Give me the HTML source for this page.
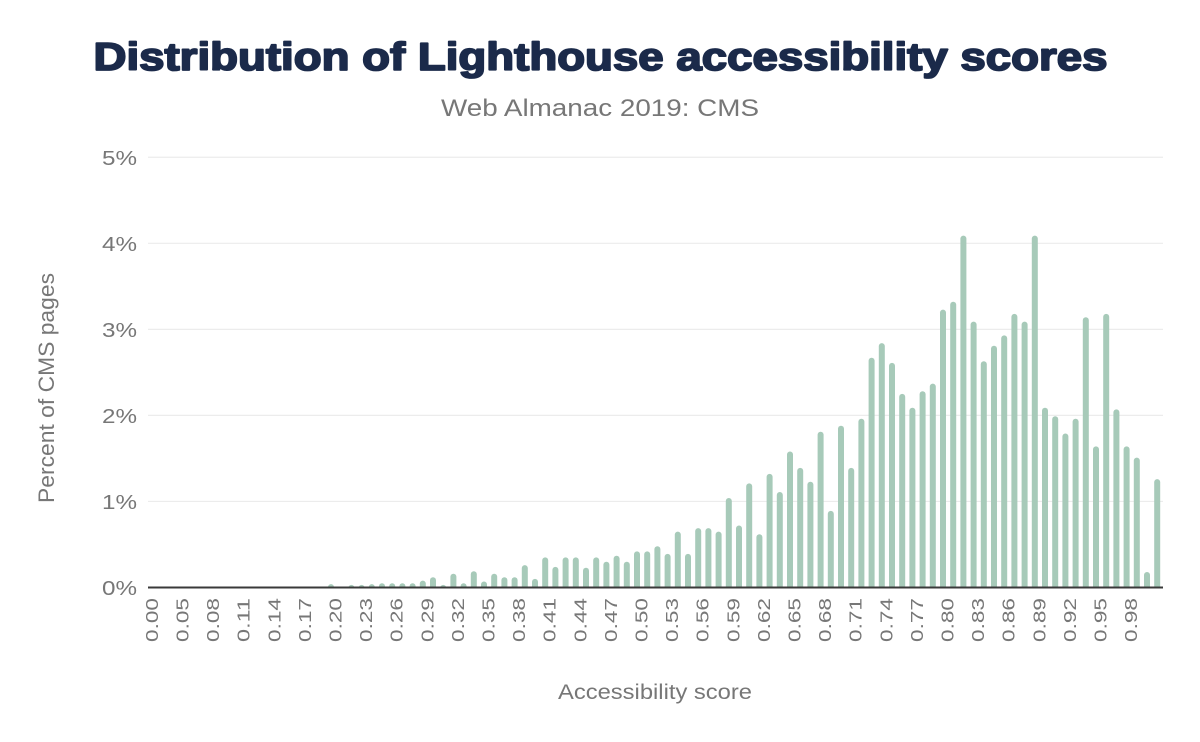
<!DOCTYPE html>
<html>
<head>
<meta charset="utf-8">
<style>
html,body{margin:0;padding:0;background:#fff;}
svg{display:block;}
text{font-family:"Liberation Sans",Arial,sans-serif;}
</style>
</head>
<body>
<svg width="1200" height="742" viewBox="0 0 1200 742" xmlns="http://www.w3.org/2000/svg">
<rect width="1200" height="742" fill="#fff"/>
<text x="600.5" y="70" text-anchor="middle" font-size="38.5" font-weight="bold" fill="#1b2a4a" stroke="#1b2a4a" stroke-width="1.8" stroke-linejoin="round" textLength="1014" lengthAdjust="spacingAndGlyphs">Distribution of Lighthouse accessibility scores</text>
<text x="600" y="116" text-anchor="middle" font-size="24" fill="#777" textLength="318" lengthAdjust="spacingAndGlyphs">Web Almanac 2019: CMS</text>

<g stroke="#ececec" stroke-width="1.2">
<line x1="148" y1="157.25" x2="1163" y2="157.25"/>
<line x1="148" y1="243.3" x2="1163" y2="243.3"/>
<line x1="148" y1="329.35" x2="1163" y2="329.35"/>
<line x1="148" y1="415.4" x2="1163" y2="415.4"/>
<line x1="148" y1="501.45" x2="1163" y2="501.45"/>
</g>

<g font-size="20" fill="#777" text-anchor="end">
<text x="137" y="165" textLength="35" lengthAdjust="spacingAndGlyphs">5%</text>
<text x="137" y="251" textLength="35" lengthAdjust="spacingAndGlyphs">4%</text>
<text x="137" y="337" textLength="35" lengthAdjust="spacingAndGlyphs">3%</text>
<text x="137" y="423" textLength="35" lengthAdjust="spacingAndGlyphs">2%</text>
<text x="137" y="509" textLength="35" lengthAdjust="spacingAndGlyphs">1%</text>
<text x="137" y="595" textLength="35" lengthAdjust="spacingAndGlyphs">0%</text>
</g>

<defs><clipPath id="pc"><rect x="140" y="100" width="1030" height="487.5"/></clipPath></defs>
<g fill="#a7cab9" clip-path="url(#pc)">
<rect x="328.0" y="584.1" width="6" height="7" rx="3"/>
<rect x="348.4" y="584.9" width="6" height="7" rx="3"/>
<rect x="358.6" y="584.9" width="6" height="7" rx="3"/>
<rect x="368.8" y="584.1" width="6" height="7" rx="3"/>
<rect x="379.0" y="583.2" width="6" height="8" rx="3"/>
<rect x="389.2" y="583.2" width="6" height="8" rx="3"/>
<rect x="399.4" y="583.2" width="6" height="8" rx="3"/>
<rect x="409.6" y="583.2" width="6" height="8" rx="3"/>
<rect x="419.8" y="580.6" width="6" height="11" rx="3"/>
<rect x="430.0" y="577.2" width="6" height="14" rx="3"/>
<rect x="440.2" y="584.9" width="6" height="7" rx="3"/>
<rect x="450.4" y="573.7" width="6" height="18" rx="3"/>
<rect x="460.6" y="583.2" width="6" height="8" rx="3"/>
<rect x="470.8" y="571.2" width="6" height="20" rx="3"/>
<rect x="481.0" y="581.5" width="6" height="10" rx="3"/>
<rect x="491.2" y="573.7" width="6" height="18" rx="3"/>
<rect x="501.4" y="577.2" width="6" height="14" rx="3"/>
<rect x="511.6" y="577.2" width="6" height="14" rx="3"/>
<rect x="521.8" y="565.1" width="6" height="26" rx="3"/>
<rect x="532.0" y="578.9" width="6" height="13" rx="3"/>
<rect x="542.2" y="557.4" width="6" height="34" rx="3"/>
<rect x="552.4" y="566.9" width="6" height="25" rx="3"/>
<rect x="562.6" y="557.4" width="6" height="34" rx="3"/>
<rect x="572.8" y="557.4" width="6" height="34" rx="3"/>
<rect x="583.0" y="567.7" width="6" height="24" rx="3"/>
<rect x="593.2" y="557.4" width="6" height="34" rx="3"/>
<rect x="603.4" y="561.7" width="6" height="30" rx="3"/>
<rect x="613.6" y="555.7" width="6" height="36" rx="3"/>
<rect x="623.8" y="561.7" width="6" height="30" rx="3"/>
<rect x="634.0" y="551.4" width="6" height="40" rx="3"/>
<rect x="644.2" y="551.4" width="6" height="40" rx="3"/>
<rect x="654.4" y="546.2" width="6" height="45" rx="3"/>
<rect x="664.6" y="553.9" width="6" height="38" rx="3"/>
<rect x="674.8" y="531.6" width="6" height="60" rx="3"/>
<rect x="685.0" y="553.9" width="6" height="38" rx="3"/>
<rect x="695.2" y="528.1" width="6" height="63" rx="3"/>
<rect x="705.4" y="528.1" width="6" height="63" rx="3"/>
<rect x="715.6" y="531.6" width="6" height="60" rx="3"/>
<rect x="725.8" y="498.0" width="6" height="93" rx="3"/>
<rect x="736.0" y="525.5" width="6" height="66" rx="3"/>
<rect x="746.2" y="483.4" width="6" height="108" rx="3"/>
<rect x="756.4" y="534.2" width="6" height="57" rx="3"/>
<rect x="766.6" y="473.9" width="6" height="118" rx="3"/>
<rect x="776.8" y="492.0" width="6" height="99" rx="3"/>
<rect x="787.0" y="451.5" width="6" height="140" rx="3"/>
<rect x="797.2" y="467.9" width="6" height="124" rx="3"/>
<rect x="807.4" y="481.7" width="6" height="110" rx="3"/>
<rect x="817.6" y="431.8" width="6" height="160" rx="3"/>
<rect x="827.8" y="510.9" width="6" height="81" rx="3"/>
<rect x="838.0" y="425.7" width="6" height="166" rx="3"/>
<rect x="848.2" y="467.9" width="6" height="124" rx="3"/>
<rect x="858.4" y="418.8" width="6" height="173" rx="3"/>
<rect x="868.6" y="357.8" width="6" height="234" rx="3"/>
<rect x="878.8" y="343.1" width="6" height="248" rx="3"/>
<rect x="889.0" y="362.9" width="6" height="229" rx="3"/>
<rect x="899.2" y="393.9" width="6" height="198" rx="3"/>
<rect x="909.4" y="407.7" width="6" height="184" rx="3"/>
<rect x="919.6" y="391.3" width="6" height="200" rx="3"/>
<rect x="929.8" y="383.6" width="6" height="208" rx="3"/>
<rect x="940.0" y="309.6" width="6" height="282" rx="3"/>
<rect x="950.2" y="301.8" width="6" height="290" rx="3"/>
<rect x="960.4" y="235.6" width="6" height="356" rx="3"/>
<rect x="970.6" y="321.6" width="6" height="270" rx="3"/>
<rect x="980.8" y="361.2" width="6" height="230" rx="3"/>
<rect x="991.0" y="345.7" width="6" height="246" rx="3"/>
<rect x="1001.2" y="335.4" width="6" height="256" rx="3"/>
<rect x="1011.4" y="313.9" width="6" height="278" rx="3"/>
<rect x="1021.6" y="321.6" width="6" height="270" rx="3"/>
<rect x="1031.8" y="235.6" width="6" height="356" rx="3"/>
<rect x="1042.0" y="407.7" width="6" height="184" rx="3"/>
<rect x="1052.2" y="416.3" width="6" height="175" rx="3"/>
<rect x="1062.4" y="433.5" width="6" height="158" rx="3"/>
<rect x="1072.6" y="418.8" width="6" height="173" rx="3"/>
<rect x="1082.8" y="317.3" width="6" height="274" rx="3"/>
<rect x="1093.0" y="446.4" width="6" height="145" rx="3"/>
<rect x="1103.2" y="313.9" width="6" height="278" rx="3"/>
<rect x="1113.4" y="409.4" width="6" height="182" rx="3"/>
<rect x="1123.6" y="446.4" width="6" height="145" rx="3"/>
<rect x="1133.8" y="457.6" width="6" height="134" rx="3"/>
<rect x="1144.0" y="572.0" width="6" height="19" rx="3"/>
<rect x="1154.2" y="479.1" width="6" height="112" rx="3"/>
</g>

<line x1="148" y1="587.5" x2="1163" y2="587.5" stroke="#3a3a3a" stroke-width="2"/>

<g font-size="17.5" fill="#777" text-anchor="end">
<text transform="translate(157.9,598) rotate(-90)" textLength="44" lengthAdjust="spacingAndGlyphs">0.00</text>
<text transform="translate(188.5,598) rotate(-90)" textLength="44" lengthAdjust="spacingAndGlyphs">0.05</text>
<text transform="translate(219.1,598) rotate(-90)" textLength="44" lengthAdjust="spacingAndGlyphs">0.08</text>
<text transform="translate(249.7,598) rotate(-90)" textLength="44" lengthAdjust="spacingAndGlyphs">0.11</text>
<text transform="translate(280.3,598) rotate(-90)" textLength="44" lengthAdjust="spacingAndGlyphs">0.14</text>
<text transform="translate(310.9,598) rotate(-90)" textLength="44" lengthAdjust="spacingAndGlyphs">0.17</text>
<text transform="translate(341.5,598) rotate(-90)" textLength="44" lengthAdjust="spacingAndGlyphs">0.20</text>
<text transform="translate(372.1,598) rotate(-90)" textLength="44" lengthAdjust="spacingAndGlyphs">0.23</text>
<text transform="translate(402.7,598) rotate(-90)" textLength="44" lengthAdjust="spacingAndGlyphs">0.26</text>
<text transform="translate(433.3,598) rotate(-90)" textLength="44" lengthAdjust="spacingAndGlyphs">0.29</text>
<text transform="translate(463.9,598) rotate(-90)" textLength="44" lengthAdjust="spacingAndGlyphs">0.32</text>
<text transform="translate(494.5,598) rotate(-90)" textLength="44" lengthAdjust="spacingAndGlyphs">0.35</text>
<text transform="translate(525.1,598) rotate(-90)" textLength="44" lengthAdjust="spacingAndGlyphs">0.38</text>
<text transform="translate(555.7,598) rotate(-90)" textLength="44" lengthAdjust="spacingAndGlyphs">0.41</text>
<text transform="translate(586.3,598) rotate(-90)" textLength="44" lengthAdjust="spacingAndGlyphs">0.44</text>
<text transform="translate(616.9,598) rotate(-90)" textLength="44" lengthAdjust="spacingAndGlyphs">0.47</text>
<text transform="translate(647.5,598) rotate(-90)" textLength="44" lengthAdjust="spacingAndGlyphs">0.50</text>
<text transform="translate(678.1,598) rotate(-90)" textLength="44" lengthAdjust="spacingAndGlyphs">0.53</text>
<text transform="translate(708.7,598) rotate(-90)" textLength="44" lengthAdjust="spacingAndGlyphs">0.56</text>
<text transform="translate(739.3,598) rotate(-90)" textLength="44" lengthAdjust="spacingAndGlyphs">0.59</text>
<text transform="translate(769.9,598) rotate(-90)" textLength="44" lengthAdjust="spacingAndGlyphs">0.62</text>
<text transform="translate(800.5,598) rotate(-90)" textLength="44" lengthAdjust="spacingAndGlyphs">0.65</text>
<text transform="translate(831.1,598) rotate(-90)" textLength="44" lengthAdjust="spacingAndGlyphs">0.68</text>
<text transform="translate(861.7,598) rotate(-90)" textLength="44" lengthAdjust="spacingAndGlyphs">0.71</text>
<text transform="translate(892.3,598) rotate(-90)" textLength="44" lengthAdjust="spacingAndGlyphs">0.74</text>
<text transform="translate(922.9,598) rotate(-90)" textLength="44" lengthAdjust="spacingAndGlyphs">0.77</text>
<text transform="translate(953.5,598) rotate(-90)" textLength="44" lengthAdjust="spacingAndGlyphs">0.80</text>
<text transform="translate(984.1,598) rotate(-90)" textLength="44" lengthAdjust="spacingAndGlyphs">0.83</text>
<text transform="translate(1014.7,598) rotate(-90)" textLength="44" lengthAdjust="spacingAndGlyphs">0.86</text>
<text transform="translate(1045.3,598) rotate(-90)" textLength="44" lengthAdjust="spacingAndGlyphs">0.89</text>
<text transform="translate(1075.9,598) rotate(-90)" textLength="44" lengthAdjust="spacingAndGlyphs">0.92</text>
<text transform="translate(1106.5,598) rotate(-90)" textLength="44" lengthAdjust="spacingAndGlyphs">0.95</text>
<text transform="translate(1137.1,598) rotate(-90)" textLength="44" lengthAdjust="spacingAndGlyphs">0.98</text>
</g>

<text transform="translate(54,388) rotate(-90)" text-anchor="middle" font-size="22" fill="#777" textLength="230" lengthAdjust="spacingAndGlyphs">Percent of CMS pages</text>
<text x="655" y="699" text-anchor="middle" font-size="21" fill="#777" textLength="194" lengthAdjust="spacingAndGlyphs">Accessibility score</text>
</svg>
</body>
</html>
